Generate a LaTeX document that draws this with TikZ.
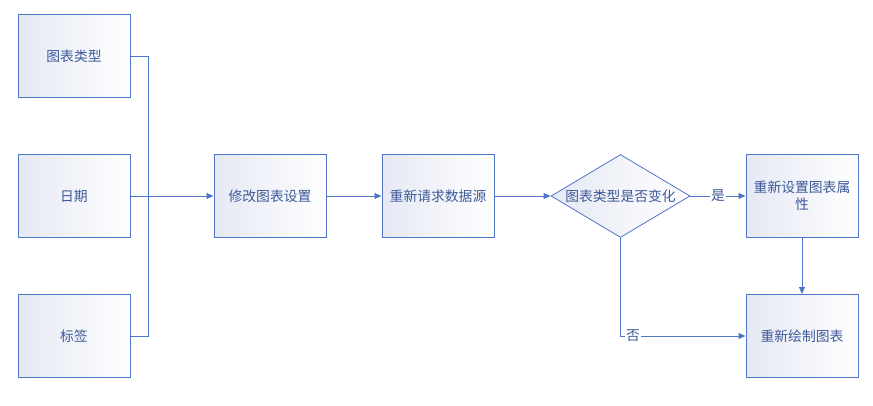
\documentclass[tikz,border=0pt]{standalone}
\usepackage{fontspec}
\setmainfont{Noto Sans CJK SC}
\usetikzlibrary{shapes.geometric,arrows.meta}
\definecolor{lineblue}{HTML}{4F75C6}
\definecolor{txtblue}{HTML}{3D5A99}
\definecolor{fillgray}{HTML}{E6E9F4}
\tikzset{
  x=1pt,y=-1pt,
  every node/.style={font=\fontsize{13.8}{17}\selectfont,text=txtblue},
  pbox/.style={draw=lineblue,line width=1pt,minimum width=112pt,minimum height=83pt,inner sep=2pt,
    shading=axis,shading angle=135,left color=fillgray,right color=white,text width=104pt,align=center},
  dbox/.style={diamond,draw=lineblue,line width=0.8pt,minimum width=139pt,minimum height=83pt,aspect=1.67,inner sep=0pt,
    shading=axis,shading angle=135,left color=fillgray,right color=white},
  conn/.style={draw=lineblue,line width=0.9pt},
  arr/.style={conn,-{Triangle[length=7pt,width=6pt]}},
  lbl/.style={fill=white,inner sep=1pt}
}
\begin{document}
\begin{tikzpicture}
\useasboundingbox (0,0) rectangle (873,405);
\node[pbox] (a) at (74,56) {图表类型};
\node[pbox] (b) at (74,196) {日期};
\node[pbox] (c) at (74,336) {标签};
\node[pbox] (d) at (270,196) {修改图表设置};
\node[pbox] (e) at (438,196) {重新请求数据源};
\node[dbox] (f) at (620.5,196) {图表类型是否变化};
\node[pbox] (g) at (802,196) {重新设置图表属\\性};
\node[pbox] (h) at (802,336) {重新绘制图表};
\coordinate (j) at (148,196);
\draw[conn] (a.east) -| (j);
\draw[conn] (c.east) -| (j);
\draw[arr] (b.east) -- (d.west);
\draw[arr] (d.east) -- (e.west);
\draw[arr] (e.east) -- (f.west);
\draw[arr] (f.east) -- node[lbl,pos=0.5]{是} (g.west);
\draw[arr] (g.south) -- (h.north);
\draw[arr] (f.south) |- node[lbl,pos=0.55]{否} (h.west);
\end{tikzpicture}
\end{document}
